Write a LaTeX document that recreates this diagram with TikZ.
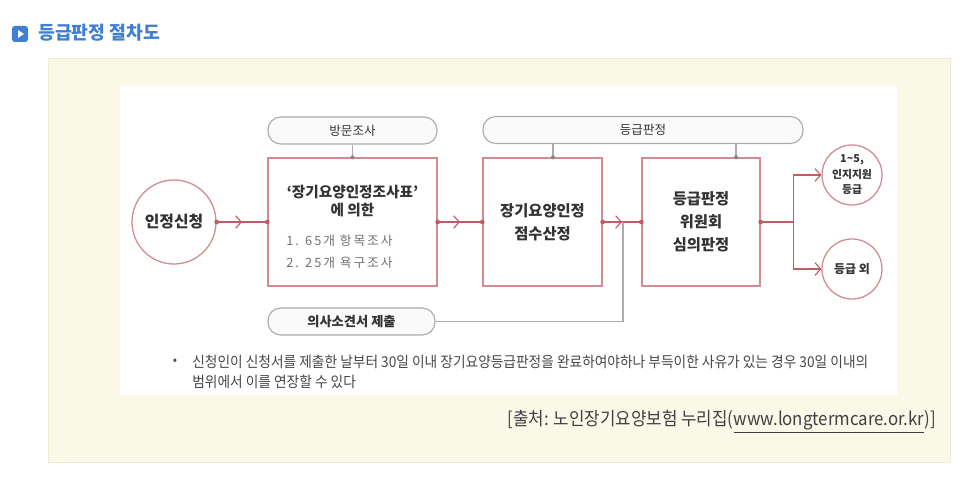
\documentclass[tikz,border=0pt]{standalone}
\usepackage{fontspec}
\setmainfont{Noto Sans CJK KR}
\newfontfamily\notefont[FakeStretch=0.92]{Noto Sans CJK KR}
\newfontfamily\itemfont[LetterSpace=15]{Noto Sans CJK KR}
\usetikzlibrary{positioning,calc,arrows.meta,decorations.markings}

\definecolor{linered}{HTML}{C35B66}
\definecolor{boxred}{HTML}{D38A91}
\definecolor{pillgray}{HTML}{ABABAB}
\definecolor{panel}{HTML}{FAF8E7}
\definecolor{panelline}{HTML}{EEEBCF}
\definecolor{titleblue}{HTML}{3F80D2}
\definecolor{txt}{HTML}{333333}

\tikzset{
  stage/.style={draw=boxred, line width=0.9pt, fill=white, minimum height=3.2cm,
    text=txt, align=center, inner sep=0pt,
    font=\bfseries\fontsize{10.9}{16.5}\selectfont},
  pill/.style={draw=pillgray, line width=0.8pt, rounded corners=0.32cm, fill=black!2,
    minimum height=0.675cm, text=txt, inner sep=0pt,
    font=\fontsize{8.9}{10}\selectfont},
  endcircle/.style={circle, draw=boxred, line width=0.9pt, fill=white, text=txt,
    align=center, inner sep=0pt},
  flow/.style={draw=linered, line width=0.8pt, postaction={decorate},
    decoration={markings,
      mark=at position 0 with {\fill[linered] circle (1.7pt);},
      mark=at position 0.5 with {\arrow{Straight Barb[length=4pt,width=9pt,line width=0.8pt]}},
      mark=at position 0.999 with {\fill[linered] circle (1.7pt);}}},
  branch/.style={draw=linered, line width=0.8pt,
    -{Straight Barb[length=4pt,width=9pt,line width=0.8pt]}},
  feed/.style={draw=pillgray, line width=0.8pt}
}

\begin{document}
\begin{tikzpicture}[x=0.025cm, y=-0.025cm]
  \useasboundingbox (0,0) rectangle (966,477);
  \fill[white] (0,0) rectangle (966,477);

  % Titolo
  \node (icon) [fill=titleblue, rounded corners=2pt, minimum size=0.4cm, inner sep=0pt] at (20,34) {};
  \fill[white] ($(icon.center)+(-2,-4)$) -- ++(6,4) -- ++(-6,4) -- cycle;
  \node (title) [anchor=west, inner sep=0pt, text=titleblue,
    font=\bfseries\fontsize{13}{15}\selectfont] at (38,33) {등급판정 절차도};

  % Sfondo
  \filldraw[fill=panel, draw=panelline] (48,58) rectangle (950,462);
  \fill[white] (120,86) rectangle (897,395);

  % Fasi
  \node (apply) [endcircle, minimum size=2.1cm, font=\bfseries\fontsize{11.3}{13}\selectfont] at (174,222) {인정신청};
  \node (survey) [stage, minimum width=4.225cm] at (352.5,222) {};
  \node (surveytitle) [align=center, text=txt, inner sep=0pt,
    font=\bfseries\fontsize{10.4}{12.2}\selectfont] at (352.5,201) {‘장기요양인정조사표’\\에 의한};
  \node (items) [anchor=west, align=left, text=black!55, inner sep=0pt,
    font=\itemfont\fontsize{9.1}{15.6}\selectfont] at (286,252) {1. 65개 항목조사\\2. 25개 욕구조사};
  \node (score) [stage, minimum width=2.975cm] at (542.5,222) {장기요양인정\\점수산정};
  \node (committee) [stage, minimum width=2.95cm] at (701,222) {등급판정\\위원회\\심의판정};

  % Etichette
  \node (visit) [pill, minimum width=4.225cm] at (352.5,130.5) {방문조사};
  \node (grading) [pill, minimum width=8cm] at (643,130) {등급판정};
  \node (doctor) [pill, minimum width=4.175cm, font=\bfseries\fontsize{9.4}{10}\selectfont] at (351.5,321.5) {의사소견서 제출};

  % Esiti
  \node (grade) [endcircle, minimum size=1.5cm, font=\bfseries\fontsize{7.7}{11}\selectfont] at (852,175) {1\textasciitilde5,\\인지지원\\등급};
  \node (outside) [endcircle, minimum size=1.5cm, font=\bfseries\fontsize{8.5}{10}\selectfont] at (852,269) {등급 외};

  % Collegamenti
  \draw[flow] (apply.east) -- (survey.west);
  \draw[flow] (survey.east) -- (score.west);
  \draw[flow] (score.east) -- (committee.west);

  \draw[feed] (visit.south) -- (survey.north);
  \fill[pillgray!80!black] (survey.north) circle (1.5pt);
  \coordinate (gA) at ($(score.north)+(10.5,0)$);
  \coordinate (gB) at ($(committee.north)+(35,0)$);
  \draw[feed] (grading.south -| gA) -- (gA);
  \draw[feed] (grading.south -| gB) -- (gB);
  \fill[pillgray!80!black] (gA) circle (1.5pt);
  \fill[pillgray!80!black] (gB) circle (1.5pt);

  \coordinate (join) at ($(score.east)!0.5!(committee.west)+(1,0)$);
  \draw[feed] (doctor.east) -| (join);

  \coordinate (fork) at ($(committee.east)+(33,0)$);
  \draw[draw=linered, line width=0.8pt] (committee.east) -- (fork);
  \fill[linered] (committee.east) circle (1.7pt);
  \draw[branch] (fork) |- (grade.west);
  \draw[branch] (fork) |- (outside.west);

  % Nota
  \node (bullet) [text=black!70, font=\fontsize{9}{10}\selectfont] at (175,362) {•};
  \node (note) [anchor=west, align=left, inner sep=0pt, text=black!72,
    font=\notefont\fontsize{10.6}{14.2}\selectfont] at (192,372) {신청인이 신청서를 제출한 날부터 30일 이내 장기요양등급판정을 완료하여야하나 부득이한 사유가 있는 경우 30일 이내의\\범위에서 이를 연장할 수 있다};
  \node (source) [anchor=east, inner sep=0pt, text=black!75,
    font=\notefont\fontsize{13}{14}\selectfont] at (936,422) {[출처: 노인장기요양보험 누리집(\underline{www.longtermcare.or.kr})]};
\end{tikzpicture}
\end{document}
